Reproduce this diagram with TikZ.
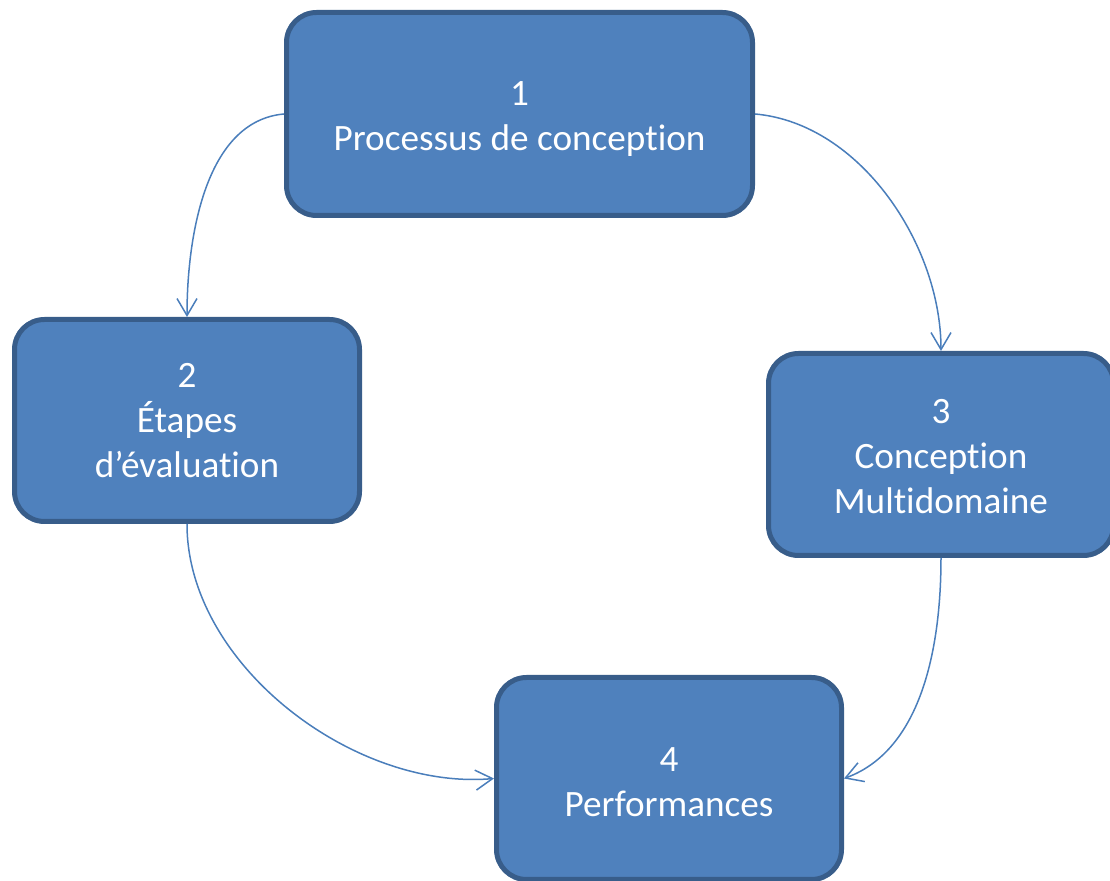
\documentclass[tikz,border=0pt]{standalone}
\usepackage{fontspec}
\setmainfont{Carlito}[Ligatures=NoCommon]
\usetikzlibrary{arrows.meta}
\definecolor{boxfill}{HTML}{4F81BD}
\definecolor{boxline}{HTML}{385D8A}
\definecolor{arrowcol}{HTML}{4A7EBB}
\tikzset{
  stagebox/.style={draw=boxline, fill=boxfill, line width=2.5pt, rounded corners=15pt,
    minimum width=172.5pt, minimum height=101pt, inner sep=0pt},
  boxtext/.style={align=center, inner sep=0pt, text=white, font=\fontsize{18.6pt}{22.6pt}\selectfont},
  link/.style={draw=arrowcol, line width=0.75pt, -{Straight Barb[length=8.5pt,width=10pt,line width=0.75pt]}}
}
\begin{document}
\begin{tikzpicture}[x=0.5pt,y=-0.5pt]
\useasboundingbox (0,0) rectangle (1110,881);
\node[stagebox, minimum width=233pt, minimum height=101.5pt] (b1) at (519.5,114) {};
\node[stagebox] (b2) at (187,420.5) {};
\node[stagebox] (b3) at (941,454.5) {};
\node[stagebox] (b4) at (669,778.5) {};
\node[boxtext] (t1) at ([yshift=-2.5pt]b1.center) {1\\Processus de conception};
\node[boxtext] (t2) at ([yshift=0pt]b2.center) {2\\Étapes\\d’évaluation};
\node[boxtext] (t3) at ([yshift=-1pt]b3.center) {3\\Conception\\Multidomaine};
\node[boxtext] (t4) at ([yshift=-2pt]b4.center) {4\\Performances};
\draw[link] (b1.west) to[out=185,in=90,looseness=0.9] (b2.north);
\draw[link] (b1.east) to[out=-5,in=90,looseness=0.9] (b3.north);
\draw[link] (b2.south) to[out=-90,in=185,looseness=0.9] (b4.west);
\draw[link] (b3.south) to[out=-90,in=20,looseness=0.9] (b4.east);
\end{tikzpicture}
\end{document}
